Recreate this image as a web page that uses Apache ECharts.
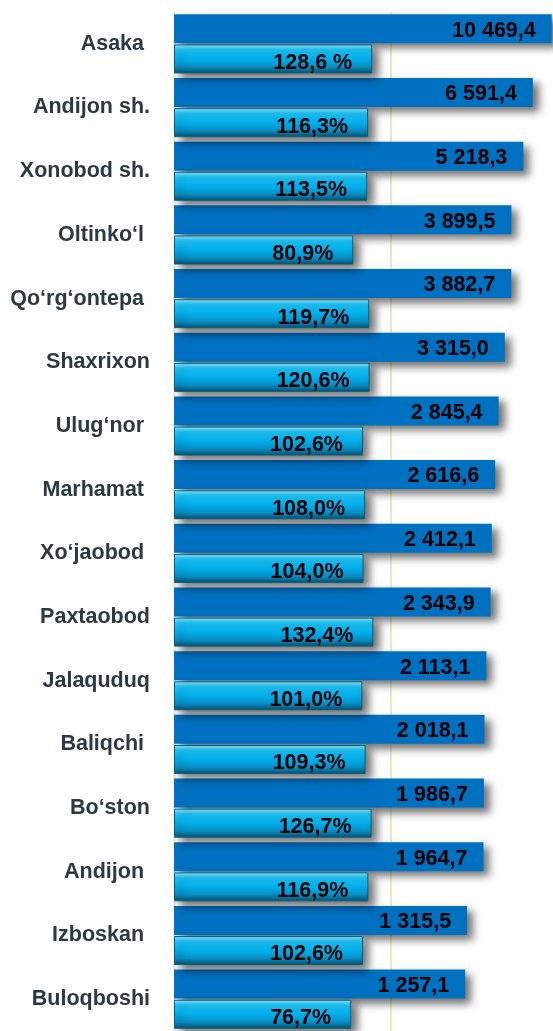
<!DOCTYPE html>
<html>
<head>
<meta charset="utf-8">
<script src="https://cdn.jsdelivr.net/npm/echarts@6/dist/echarts.min.js"></script>
<style>
html, body { margin: 0; padding: 0; background: #fff; }
#chart { width: 553px; height: 1031px; }
</style>
</head>
<body>
<div id="chart"></div>
<script>
var districts = ["Asaka ", "Andijon sh.", "Xonobod sh.", "Oltinko\u2018l ", "Qo\u2018rg\u2018ontepa ", "Shaxrixon",
    "Ulug\u2018nor ", "Marhamat ", "Xo\u2018jaobod ", "Paxtaobod", "Jalaquduq", "Baliqchi ",
    "Bo\u2018ston", "Andijon ", "Izboskan ", "Buloqboshi"];
var volumes = [10469.4, 6591.4, 5218.3, 3899.5, 3882.7, 3315.0, 2845.4, 2616.6,
    2412.1, 2343.9, 2113.1, 2018.1, 1986.7, 1964.7, 1315.5, 1257.1];
var growth = [128.6, 116.3, 113.5, 80.9, 119.7, 120.6, 102.6, 108.0,
    104.0, 132.4, 101.0, 109.3, 126.7, 116.9, 102.6, 76.7];
var growthLabels = ["128,6 %", "116,3%", "113,5%", "80,9%", "119,7%", "120,6%", "102,6%", "108,0%",
    "104,0%", "132,4%", "101,0%", "109,3%", "126,7%", "116,9%", "102,6%", "76,7%"];

function fmtVol(v) {
    var s = v.toFixed(1).split(".");
    return s[0].replace(/\B(?=(\d{3})+(?!\d))/g, " ") + "," + s[1];
}

var numFont = "'Liberation Sans', Arial, sans-serif";
var shadow = {
    shadowColor: "rgba(0,0,0,0.55)",
    shadowBlur: 8,
    shadowOffsetX: 6,
    shadowOffsetY: 5
};

var chart = echarts.init(document.getElementById("chart"));
chart.setOption({
    animation: false,
    grid: { left: 174, right: 0, top: 12, bottom: -3 },
    xAxis: {
        type: "log",
        min: 1,
        max: 10800,
        axisLine: { show: false },
        axisTick: { show: false },
        axisLabel: { show: false },
        splitLine: { show: false }
    },
    yAxis: {
        type: "category",
        inverse: true,
        data: districts,
        axisLine: { show: true, lineStyle: { color: "#d9eaa6", width: 1 } },
        axisTick: { show: false },
        axisLabel: {
            margin: 24,
            color: "#2a3a44",
            fontFamily: "'Liberation Sans', Arial, sans-serif",
            fontWeight: "bold",
            fontSize: 21.5
        }
    },
    series: [{
        // reference line behind the bars
        type: "line",
        data: [],
        z: 0,
        markLine: {
            z: 0,
            silent: true,
            symbol: "none",
            label: { show: false },
            lineStyle: { color: "#d9eaa6", type: "solid", width: 1.5 },
            data: [{ xAxis: 203 }]
        }
    }, {
        type: "bar",
        data: volumes,
        barWidth: 29,
        barGap: "4%",
        clip: false,
        itemStyle: Object.assign({ color: "#0070c0" }, shadow),
        label: {
            show: true,
            position: "insideRight",
            distance: 16,
            offset: [0, 2],
            color: "#000",
            fontFamily: numFont,
            fontWeight: "bold",
            fontSize: 21.5,
            formatter: function(p) { return fmtVol(p.value); }
        }
    }, {
        type: "bar",
        data: growth,
        barWidth: 29,
        z: 3,
        itemStyle: Object.assign({
            color: {
                type: "linear", x: 0, y: 0, x2: 0, y2: 1,
                colorStops: [
                    { offset: 0, color: "#8be6ff" },
                    { offset: 0.18, color: "#20c4f6" },
                    { offset: 0.5, color: "#00b0ef" },
                    { offset: 0.78, color: "#0a8cc0" },
                    { offset: 1, color: "#04506e" }
                ]
            },
            borderColor: "#0a5f80",
            borderWidth: 1
        }, shadow),
        label: {
            show: true,
            position: "insideRight",
            distance: 20,
            offset: [0, 4],
            color: "#000",
            fontFamily: numFont,
            fontWeight: "bold",
            fontSize: 21.5,
            formatter: function(p) { return growthLabels[p.dataIndex]; }
        }
    }]
});
</script>
</body>
</html>
